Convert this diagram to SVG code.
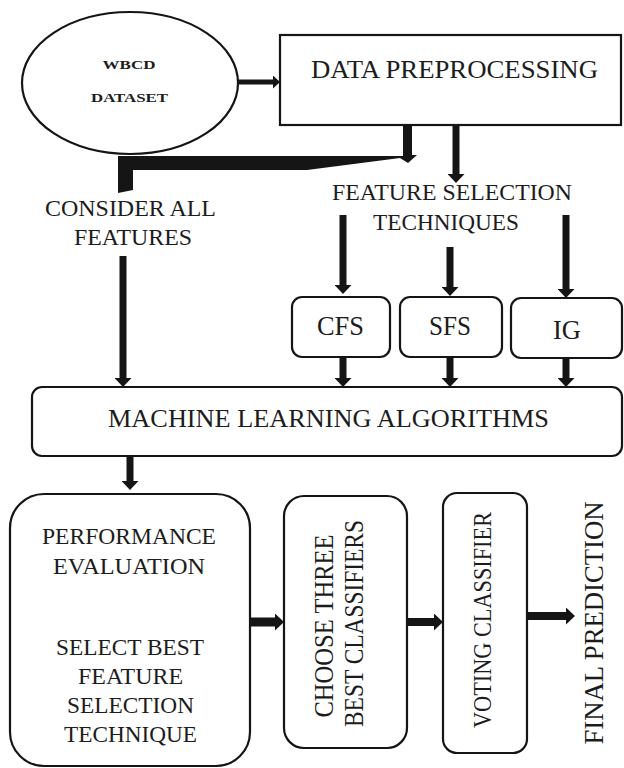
<svg xmlns="http://www.w3.org/2000/svg" width="624" height="768" viewBox="0 0 624 768">
<style>
.box{fill:#fff;stroke:#151515;stroke-width:2.2}
.t{font-family:"Liberation Serif","Times New Roman",serif;fill:#1c1c1c;text-anchor:middle}
.c{stroke:#151515;fill:none}
.f{fill:#151515;stroke:none}
</style>
<defs>
<marker id="ah" markerUnits="userSpaceOnUse" viewBox="0 0 9 17" refX="0" refY="8.5" markerWidth="9" markerHeight="17" orient="auto">
<path d="M0,0 L9,8.5 L0,17 Z" fill="#151515"/>
</marker>
<marker id="ahs" markerUnits="userSpaceOnUse" viewBox="0 0 7 13" refX="0" refY="6.5" markerWidth="7" markerHeight="13" orient="auto">
<path d="M0,0 L7,6.5 L0,13 Z" fill="#151515"/>
</marker>
</defs>
<rect width="624" height="768" fill="#fff"/>

<g id="wbcd">
<ellipse cx="130" cy="83" rx="108" ry="71" class="box"/>
<text class="t" x="129" y="69" font-size="13.5" font-weight="bold" textLength="53" lengthAdjust="spacingAndGlyphs">WBCD</text>
<text class="t" x="129.5" y="102" font-size="13.5" font-weight="bold" textLength="77" lengthAdjust="spacingAndGlyphs">DATASET</text>
</g>

<g id="preprocessing">
<rect x="280" y="35" width="341" height="90" class="box"/>
<text class="t" x="454.5" y="78" font-size="25" textLength="287" lengthAdjust="spacingAndGlyphs">DATA PREPROCESSING</text>
</g>

<g id="consider-all">
<text class="t" x="130.5" y="216" font-size="23" textLength="171" lengthAdjust="spacingAndGlyphs">CONSIDER ALL</text>
<text class="t" x="133" y="245" font-size="23" textLength="118" lengthAdjust="spacingAndGlyphs">FEATURES</text>
</g>

<g id="feature-selection">
<text class="t" x="452" y="200" font-size="23.5" textLength="240" lengthAdjust="spacingAndGlyphs">FEATURE SELECTION</text>
<text class="t" x="446" y="230" font-size="23.5" textLength="146" lengthAdjust="spacingAndGlyphs">TECHNIQUES</text>
</g>

<g id="cfs">
<rect x="292" y="297" width="98" height="60" rx="10" class="box"/>
<text class="t" x="340.5" y="335" font-size="27" textLength="47" lengthAdjust="spacingAndGlyphs">CFS</text>
</g>
<g id="sfs">
<rect x="400" y="297" width="102" height="60" rx="10" class="box"/>
<text class="t" x="450" y="335" font-size="27" textLength="42" lengthAdjust="spacingAndGlyphs">SFS</text>
</g>
<g id="ig">
<rect x="511" y="298" width="111" height="60" rx="10" class="box"/>
<text class="t" x="567" y="339" font-size="28" textLength="28" lengthAdjust="spacingAndGlyphs">IG</text>
</g>

<g id="ml">
<rect x="32" y="387" width="590" height="69" rx="10" class="box"/>
<text class="t" x="328.5" y="427" font-size="26" textLength="441" lengthAdjust="spacingAndGlyphs">MACHINE LEARNING ALGORITHMS</text>
</g>

<g id="performance">
<rect x="10" y="494" width="240" height="272" rx="34" class="box"/>
<text class="t" x="129" y="544" font-size="24" textLength="174" lengthAdjust="spacingAndGlyphs">PERFORMANCE</text>
<text class="t" x="129" y="574" font-size="24" textLength="152" lengthAdjust="spacingAndGlyphs">EVALUATION</text>
<text class="t" x="130" y="655" font-size="24" textLength="148" lengthAdjust="spacingAndGlyphs">SELECT BEST</text>
<text class="t" x="130.5" y="684" font-size="24" textLength="105" lengthAdjust="spacingAndGlyphs">FEATURE</text>
<text class="t" x="130.5" y="713" font-size="24" textLength="127" lengthAdjust="spacingAndGlyphs">SELECTION</text>
<text class="t" x="130.5" y="742" font-size="24" textLength="133" lengthAdjust="spacingAndGlyphs">TECHNIQUE</text>
</g>

<g id="choose">
<rect x="284" y="496" width="123" height="252" rx="20" class="box"/>
<text class="t" font-size="27" transform="translate(333,626) rotate(-90)" textLength="183" lengthAdjust="spacingAndGlyphs">CHOOSE THREE</text>
<text class="t" font-size="27" transform="translate(363,623.5) rotate(-90)" textLength="207" lengthAdjust="spacingAndGlyphs">BEST CLASSIFIERS</text>
</g>

<g id="voting">
<rect x="443" y="493" width="84" height="260" rx="14" class="box"/>
<text class="t" font-size="26" transform="translate(491,620) rotate(-90)" textLength="216" lengthAdjust="spacingAndGlyphs">VOTING CLASSIFIER</text>
</g>

<g id="final">
<text class="t" font-size="27" transform="translate(603,623) rotate(-90)" textLength="243" lengthAdjust="spacingAndGlyphs">FINAL PREDICTION</text>
</g>

<g id="connectors">
<line class="c" x1="238" y1="82" x2="273" y2="82" stroke-width="5" marker-end="url(#ahs)"/>
<path class="f" d="M403,125 L412,125 L412,155 L417,155 L408,163 L400,158 L307,170 L133,170 L133,190 L118,193 L118,156 L403,156 Z"/>
<line class="c" x1="456" y1="125" x2="456" y2="174" stroke-width="7" marker-end="url(#ah)"/>
<line class="c" x1="123" y1="256" x2="123" y2="378" stroke-width="7" marker-end="url(#ah)"/>
<line class="c" x1="343" y1="215" x2="343" y2="285" stroke-width="7" marker-end="url(#ah)"/>
<line class="c" x1="450" y1="247" x2="450" y2="287" stroke-width="7" marker-end="url(#ah)"/>
<line class="c" x1="566" y1="215" x2="566" y2="289" stroke-width="7" marker-end="url(#ah)"/>
<line class="c" x1="343" y1="357" x2="343" y2="378" stroke-width="7" marker-end="url(#ah)"/>
<line class="c" x1="450" y1="357" x2="450" y2="378" stroke-width="7" marker-end="url(#ah)"/>
<line class="c" x1="566" y1="358" x2="566" y2="378" stroke-width="7" marker-end="url(#ah)"/>
<line class="c" x1="130" y1="456" x2="130" y2="481" stroke-width="7" marker-end="url(#ah)"/>
<line class="c" x1="250" y1="622" x2="275" y2="622" stroke-width="9" marker-end="url(#ah)"/>
<line class="c" x1="407" y1="622" x2="434" y2="622" stroke-width="8" marker-end="url(#ah)"/>
<line class="c" x1="527" y1="616" x2="566" y2="616" stroke-width="8" marker-end="url(#ah)"/>
</g>
</svg>
